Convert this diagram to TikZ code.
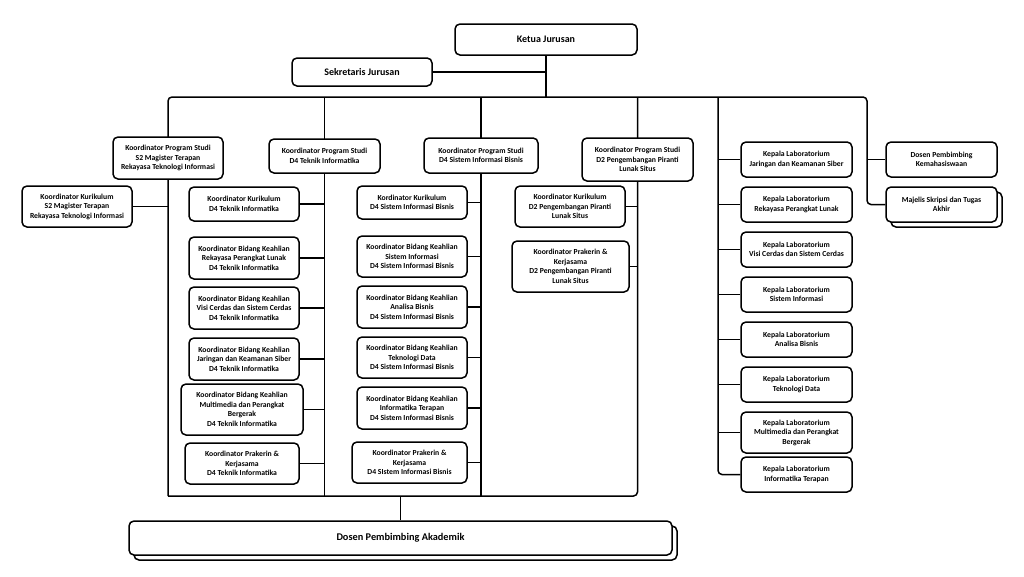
\documentclass[tikz,border=0pt]{standalone}
\usepackage{fontspec}
\setmainfont{Carlito}
\usetikzlibrary{backgrounds}
\tikzset{
  bx/.style={draw, line width=1.5pt, rounded corners=5pt, fill=white, align=center, inner sep=1pt,
    font=\bfseries\fontsize{7.7}{9.5}\selectfont},
  big/.style={font=\bfseries\fontsize{10}{12}\selectfont},
  conn/.style={line width=1.5pt},
  rc/.style={rounded corners=4pt},
}
\newcommand{\bxnode}[6]{\node[bx, minimum width=#4pt, minimum height=#5pt] (#1) at (#2,#3) {#6};}
\begin{document}
\begin{tikzpicture}[x=1pt,y=-1pt]
\useasboundingbox (0,0) rectangle (1024,576);
% top
\node[bx,big, minimum width=182pt, minimum height=31pt] (ketua) at (546,39.5) {Ketua Jurusan};
\node[bx,big, minimum width=140pt, minimum height=28pt] (sekr) at (362,72) {Sekretaris Jurusan};
% program heads
\bxnode{kps2}{168}{158}{110}{42}{Koordinator Program Studi\\S2 Magister Terapan\\Rekayasa Teknologi Informasi}
\bxnode{kpsti}{324.5}{156}{111}{34}{Koordinator Program Studi\\D4 Teknik Informatika}
\bxnode{kpssib}{481}{155.5}{114}{35}{Koordinator Program Studi\\D4 Sistem Informasi Bisnis}
\bxnode{kpsd2}{637.5}{159.5}{111}{43}{Koordinator Program Studi\\D2 Pengembangan Piranti\\Lunak Situs}
% S2
\bxnode{kur2}{77}{206.5}{110}{41}{Koordinator Kurikulum\\S2 Magister Terapan\\Rekayasa Teknologi Informasi}
% D4 TI
\bxnode{ti1}{244}{204}{110}{34}{Koordinator Kurikulum\\D4 Teknik Informatika}
\bxnode{ti2}{244}{258}{110}{42}{Koordinator Bidang Keahlian\\Rekayasa Perangkat Lunak\\D4 Teknik Informatika}
\bxnode{ti3}{244}{308}{110}{42}{Koordinator Bidang Keahlian\\Visi Cerdas dan Sistem Cerdas\\D4 Teknik Informatika}
\bxnode{ti4}{244}{359}{110}{42}{Koordinator Bidang Keahlian\\Jaringan dan Keamanan Siber\\D4 Teknik Informatika}
\bxnode{ti5}{242}{409.5}{122}{51}{Koordinator Bidang Keahlian\\Multimedia dan Perangkat\\Bergerak\\D4 Teknik Informatika}
\bxnode{ti6}{242}{463.5}{114}{41}{Koordinator Prakerin \&\\Kerjasama\\D4 Teknik Informatika}
% D4 SIB
\bxnode{sib1}{412}{202.5}{110}{33}{Kordinator Kurikulum\\D4 Sistem Informasi Bisnis}
\bxnode{sib2}{412}{256.5}{110}{41}{Koordinator Bidang Keahlian\\Sistem Informasi\\D4 Sistem Informasi Bisnis}
\bxnode{sib3}{412}{307}{110}{42}{Koordinator Bidang Keahlian\\Analisa Bisnis\\D4 Sistem Informasi Bisnis}
\bxnode{sib4}{412}{357.5}{110}{41}{Koordinator Bidang Keahlian\\Teknologi Data\\D4 Sistem Informasi Bisnis}
\bxnode{sib5}{412}{408}{110}{42}{Koordinator Bidang Keahlian\\Informatika Terapan\\D4 Sistem Informasi Bisnis}
\bxnode{sib6}{409.5}{462.5}{115}{41}{Koordinator Prakerin \&\\Kerjasama\\D4 SIstem Informasi Bisnis}
% D2
\bxnode{d21}{570}{206.5}{110}{41}{Koordinator Kurikulum\\D2 Pengembangan Piranti\\Lunak Situs}
\bxnode{d22}{570.5}{266.5}{117}{51}{Koordinator Prakerin \&\\Kerjasama\\D2 Pengembangan Piranti\\Lunak Situs}
% labs
\bxnode{lab1}{796.5}{159.5}{111}{35}{Kepala Laboratorium\\Jaringan dan Keamanan Siber}
\bxnode{lab2}{796.5}{204.5}{111}{35}{Kepala Laboratorium\\Rekayasa Perangkat Lunak}
\bxnode{lab3}{796.5}{249.5}{111}{35}{Kepala Laboratorium\\Visi Cerdas dan Sistem Cerdas}
\bxnode{lab4}{796.5}{294.5}{111}{35}{Kepala Laboratorium\\Sistem Informasi}
\bxnode{lab5}{796.5}{339.5}{111}{35}{Kepala Laboratorium\\Analisa Bisnis}
\bxnode{lab6}{796.5}{384.5}{111}{35}{Kepala Laboratorium\\Teknologi Data}
\bxnode{lab7}{796.5}{432.5}{111}{41}{Kepala Laboratorium\\Multimedia dan Perangkat\\Bergerak}
\bxnode{lab8}{796.5}{474.5}{111}{35}{Kepala Laboratorium\\Informatika Terapan}
% student
\bxnode{dpk}{941.5}{159.5}{111}{35}{Dosen Pembimbing\\Kemahasiswaan}
\node[bx, minimum width=111pt, minimum height=35pt] (majs) at (946.5,209.5) {};
\bxnode{maj}{941.5}{204.5}{111}{35}{Majelis Skripsi dan Tugas\\Akhir}
% academic advisor
\node[bx, minimum width=543pt, minimum height=34pt] (dpas) at (405.5,543) {};
\node[bx, font=\bfseries\fontsize{10.3}{12}\selectfont, minimum width=543pt, minimum height=34pt] (dpa) at (400.5,538) {Dosen Pembimbing Akademik};
% helper coordinates
\coordinate (bus) at (0,97);
\coordinate (bot) at (0,496);
\coordinate (labx) at (718,0);
\coordinate (stux) at (867,0);
\begin{scope}[on background layer]
  \draw[conn] (ketua.south) -- (ketua.south |- bus);
  \draw[conn] (sekr.east) -- (sekr.east -| ketua.south);
  \draw[conn,rc] (kps2 |- bot) -- (kps2 |- bus) -- (stux |- bus) -- (stux |- maj) -- (maj.west);
  \draw[conn,rc] (kps2 |- bot) -- (kpsd2 |- bot) -- (kpsd2 |- bus);
  \draw[conn] (kpsti |- bus) -- (kpsti |- bot);
  \draw[conn] (kpssib |- bus) -- (kpssib |- bot);
  \draw[conn,rc] (labx |- bus) -- (labx |- lab8) -- (lab8.west);
  \draw[conn] (dpa.north) -- (dpa.north |- bot);
  \draw[conn] (kur2.east) -- (kur2.east -| kps2);
  \foreach \n in {ti1,ti2,ti3,ti4,ti5,ti6}{\draw[conn] (\n.east) -- (\n.east -| kpsti);}
  \foreach \n in {sib1,sib2,sib3,sib4,sib5,sib6}{\draw[conn] (\n.east) -- (\n.east -| kpssib);}
  \foreach \n in {d21,d22}{\draw[conn] (\n.east) -- (\n.east -| kpsd2);}
  \foreach \n in {lab1,lab2,lab3,lab4,lab5,lab6,lab7}{\draw[conn] (\n.west) -- (\n.west -| labx);}
  \draw[conn] (dpk.west) -- (dpk.west -| stux);
\end{scope}
\end{tikzpicture}
\end{document}
